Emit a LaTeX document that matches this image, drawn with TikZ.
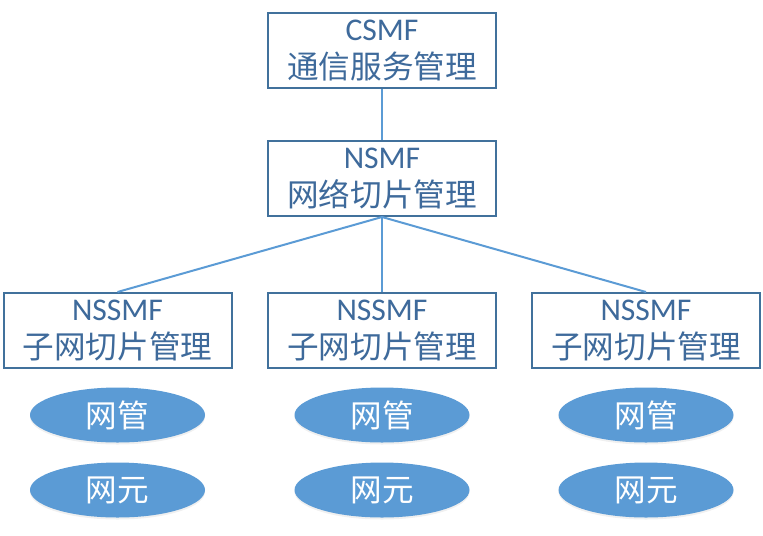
\documentclass[tikz,border=0pt]{standalone}
\usepackage{fontspec}
\setmainfont{Carlito}
\newfontfamily\cjk{Noto Sans CJK SC}
\usetikzlibrary{shapes.geometric,shadows}
\definecolor{boxblue}{HTML}{41719C}
\definecolor{txtblue}{HTML}{3E6A9B}
\definecolor{lineblue}{HTML}{5B9BD5}
\definecolor{fillblue}{HTML}{5B9BD5}

\begin{document}
\begin{tikzpicture}[node distance=64pt, auto,
    mgr/.style={draw=boxblue, line width=1pt, fill=white, minimum width=114pt,
      minimum height=37.5pt, inner sep=0pt, align=center, text=txtblue,
      font=\fontsize{15.8}{19}\selectfont},
    elem/.style={ellipse, fill=fillblue, minimum width=87.5pt, minimum height=27.5pt,
      inner sep=0pt, text=white, font=\cjk\fontsize{15.8}{19}\selectfont,
      drop shadow={opacity=0.12, shadow xshift=0pt, shadow yshift=-1pt}},
    link/.style={draw=lineblue, line width=1pt}]
    \useasboundingbox (0,0) rectangle (381.5pt,-267.5pt);

    \node[mgr] (csmf) at (191pt,-25.25pt) {CSMF\\{\cjk 通信服务管理}};
    \node[mgr] (nsmf) [below of=csmf] {NSMF\\{\cjk 网络切片管理}};
    \node[mgr] (sub2) [below of=nsmf, node distance=76pt] {NSSMF\\{\cjk 子网切片管理}};
    \node[mgr] (sub1) [left of=sub2, node distance=132.25pt] {NSSMF\\{\cjk 子网切片管理}};
    \node[mgr] (sub3) [right of=sub2, node distance=132pt] {NSSMF\\{\cjk 子网切片管理}};

    % network managers and elements under each subnet
    \foreach \i in {1,2,3} {
      \node[elem] (nm\i) [below of=sub\i, node distance=42.25pt] {网管};
      \node[elem] (ne\i) [below of=nm\i, node distance=37.5pt] {网元};
    }

    \draw[link] (csmf) -- (nsmf);
    \draw[link] (nsmf.south) -- (sub1.north);
    \draw[link] (nsmf.south) -- (sub2.north);
    \draw[link] (nsmf.south) -- (sub3.north);
\end{tikzpicture}
\end{document}
